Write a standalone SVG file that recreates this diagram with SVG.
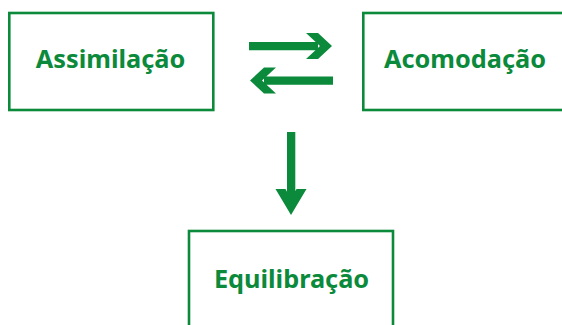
<svg xmlns="http://www.w3.org/2000/svg" width="562" height="325" viewBox="0 0 562 325">
<style>
.box{fill:#fff;stroke:#0b8a3b;stroke-width:2.6}
.lbl{font-family:"Noto Sans","Open Sans",sans-serif;font-weight:700;font-size:25.3px;fill:#0b8a3b;text-anchor:middle}
.arr{fill:#0b8a3b}
</style>
<rect width="562" height="325" fill="#fff"/>
<g id="assimilacao">
<rect class="box" x="9.3" y="13" width="204" height="97"/>
<text class="lbl" x="110.5" y="68">Assimilação</text>
</g>
<g id="acomodacao">
<rect class="box" x="363.3" y="13" width="240" height="97"/>
<text class="lbl" x="465" y="68">Acomodação</text>
</g>
<g id="equilibracao">
<rect class="box" x="189" y="231" width="204" height="110"/>
<text class="lbl" x="291.5" y="288">Equilibração</text>
</g>
<g id="connectors">
<path class="arr" d="M249,42H318V50.3H249Z M306,33H318L332,46L318,59H306L320,46Z"/>
<path class="arr" d="M333,76.5H264V84.8H333Z M276,67.5H264L250,80.5L264,93.5H276L262,80.5Z"/>
<path class="arr" d="M287,132H295.3V205H287Z M275.5,189H285.5L291,199L296.5,189H306.5L291,215Z"/>
</g>
</svg>
